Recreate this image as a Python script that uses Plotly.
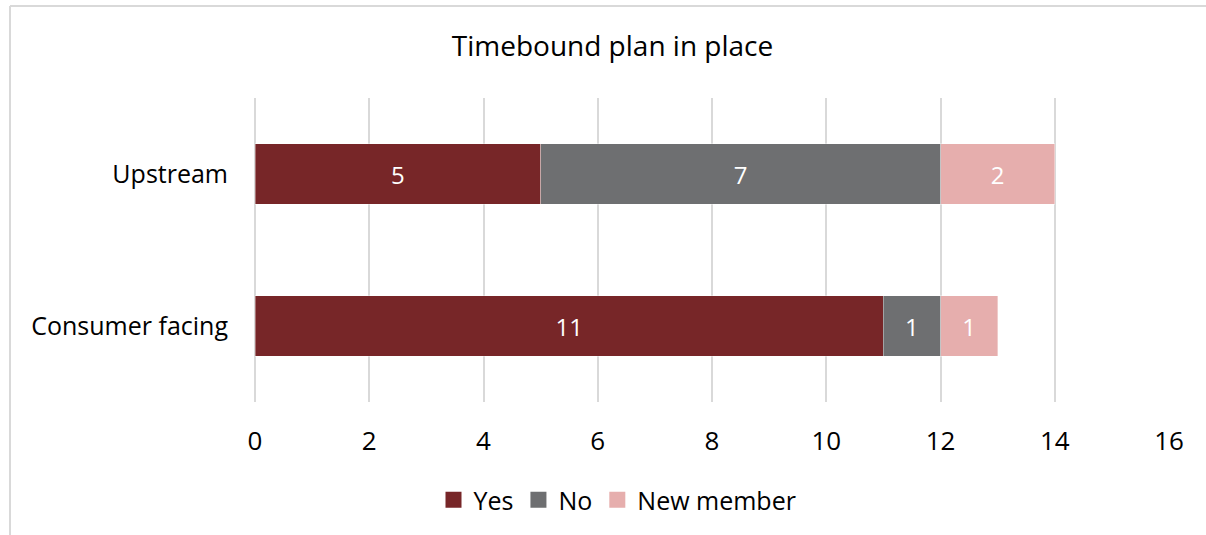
import plotly.graph_objects as go

# Chart data
categories = ["Consumer facing", "Upstream"]
yes_counts = [11, 5]
no_counts = [1, 7]
new_member_counts = [1, 2]

series_names = ["Yes", "No", "New member"]
series_colors = ["#772628", "#6E6F71", "#E6AEAD"]
tick_values = [0, 2, 4, 6, 8, 10, 12, 14, 16]

W, H = 1206, 535
M_L, M_R, M_T, M_B = 255, 37, 98, 133
FONT = "Open Sans, Lato, sans-serif"

fig = go.Figure()
for name, vals, color in zip(series_names, [yes_counts, no_counts, new_member_counts], series_colors):
    fig.add_trace(go.Bar(
        name=name,
        y=categories,
        x=vals,
        orientation="h",
        marker=dict(color=color, line=dict(color="rgba(255,255,255,0.6)", width=0.6)),
        text=[str(v) for v in vals],
        textposition="inside",
        insidetextanchor="middle",
        textfont=dict(color="white", size=24, family=FONT),
        width=0.4,
        showlegend=False,
        legendgroup=name,
    ))

# legend entries with larger square swatches
for name, color in zip(series_names, series_colors):
    fig.add_trace(go.Scatter(
        name=name, x=[None], y=[None], mode="markers",
        marker=dict(symbol="square", size=16, color=color),
        legendgroup=name, hoverinfo="skip",
    ))

# outer chart frame: left and top edges (paper coords relative to the plot area)
pw = W - M_L - M_R
ph = H - M_T - M_B
fx0 = (10 - M_L) / pw
fy1 = (H - M_B - 6) / ph
fig.add_shape(type="line", xref="paper", yref="paper",
              x0=fx0, x1=fx0, y0=(H - M_B - H - 10) / ph, y1=fy1,
              line=dict(color="#D9D9D9", width=2), layer="below")
fig.add_shape(type="line", xref="paper", yref="paper",
              x0=fx0, x1=(W + 10 - M_L) / pw, y0=fy1, y1=fy1,
              line=dict(color="#D9D9D9", width=2), layer="below")

fig.update_layout(
    width=W, height=H,
    barmode="stack",
    paper_bgcolor="white",
    plot_bgcolor="white",
    margin=dict(l=M_L, r=M_R, t=M_T, b=M_B),
    title=dict(text="Timebound plan in place", x=(453 + 772) / 2 / W, xanchor="center",
               y=1 - 46 / H, yanchor="middle",
               font=dict(family=FONT, size=28, color="#000000")),
    font=dict(family=FONT, color="#000000"),
    showlegend=True,
    legend=dict(orientation="h", x=(438 + 797) / 2 / W, xref="container",
                xanchor="center", y=1 - 500 / H, yref="container", yanchor="middle",
                font=dict(family=FONT, size=25, color="#000000"),
                traceorder="normal", itemwidth=30),
    bargap=0.6,
)

fig.update_xaxes(
    range=[0, 16], tickvals=tick_values, showgrid=True,
    gridcolor="#D9D9D9", gridwidth=2, zeroline=True, zerolinecolor="#D9D9D9",
    zerolinewidth=2, showline=False,
    tickfont=dict(family=FONT, size=26, color="#000000"),
    ticks="", ticklabelstandoff=21,
)
fig.update_yaxes(
    showgrid=False, zeroline=False, showline=False,
    tickfont=dict(family=FONT, size=25, color="#000000"),
    ticks="", ticklabelstandoff=26,
)

fig.write_html("out.html")
